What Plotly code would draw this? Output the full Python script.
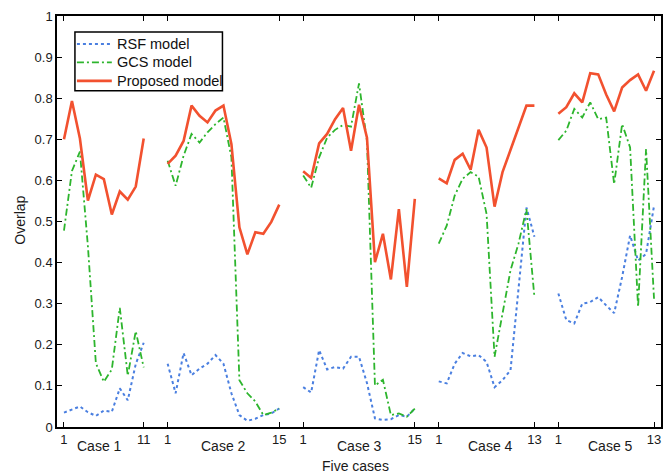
import plotly.graph_objects as go

# ---- data ----
case_names = ["Case 1", "Case 2", "Case 3", "Case 4", "Case 5"]
case_lengths = [11, 15, 15, 13, 13]
series_names = ["RSF model", "GCS model", "Proposed model"]

rsf = [
    [0.035, 0.043, 0.050, 0.036, 0.027, 0.040, 0.037, 0.094, 0.065, 0.153, 0.205],
    [0.154, 0.082, 0.180, 0.126, 0.142, 0.154, 0.175, 0.154, 0.082, 0.029, 0.015, 0.020, 0.029, 0.033, 0.045],
    [0.097, 0.084, 0.187, 0.140, 0.146, 0.142, 0.171, 0.171, 0.107, 0.021, 0.017, 0.019, 0.029, 0.025, 0.045],
    [0.111, 0.106, 0.154, 0.180, 0.172, 0.175, 0.158, 0.097, 0.114, 0.138, 0.335, 0.534, 0.463],
    [0.325, 0.260, 0.252, 0.300, 0.304, 0.316, 0.296, 0.277, 0.365, 0.466, 0.405, 0.421, 0.538],
]
gcs = [
    [0.478, 0.623, 0.670, 0.440, 0.155, 0.110, 0.140, 0.290, 0.125, 0.233, 0.145],
    [0.648, 0.587, 0.660, 0.713, 0.692, 0.717, 0.737, 0.753, 0.656, 0.114, 0.082, 0.062, 0.029, 0.035, 0.045],
    [0.612, 0.582, 0.656, 0.704, 0.723, 0.735, 0.731, 0.836, 0.696, 0.101, 0.115, 0.029, 0.033, 0.025, 0.045],
    [0.446, 0.490, 0.563, 0.604, 0.620, 0.609, 0.518, 0.171, 0.276, 0.381, 0.446, 0.530, 0.316],
    [0.698, 0.721, 0.774, 0.753, 0.790, 0.749, 0.753, 0.591, 0.737, 0.680, 0.292, 0.676, 0.312],
]
proposed = [
    [0.700, 0.793, 0.702, 0.551, 0.614, 0.603, 0.517, 0.573, 0.553, 0.585, 0.702],
    [0.640, 0.660, 0.696, 0.782, 0.757, 0.741, 0.770, 0.782, 0.688, 0.486, 0.420, 0.474, 0.470, 0.499, 0.541],
    [0.622, 0.606, 0.690, 0.713, 0.749, 0.776, 0.672, 0.784, 0.704, 0.401, 0.470, 0.359, 0.530, 0.341, 0.555],
    [0.605, 0.593, 0.650, 0.665, 0.626, 0.723, 0.680, 0.536, 0.620, 0.674, 0.729, 0.782, 0.782],
    [0.762, 0.778, 0.812, 0.790, 0.861, 0.858, 0.809, 0.768, 0.826, 0.844, 0.858, 0.818, 0.867],
]
y_ticks = [round(0.1 * i, 1) for i in range(11)]

# ---- arrange the cases along one axis ----
GAP = 2
starts = []
s = 1
for n in case_lengths:
    starts.append(s)
    s += n + GAP


def build(series):
    xs, ys = [], []
    for st, n, vals in zip(starts, case_lengths, series):
        xs += [st + i for i in range(n)] + [None]
        ys += list(vals) + [None]
    return xs, ys


FONT = "Liberation Sans, Arial, sans-serif"
TXT = "#1a1a1a"
line_styles = [
    dict(color="#4a7fe0", width=2, dash="dot"),
    dict(color="#2db52d", width=1.8, dash="7px,3px,2px,3px"),
    dict(color="#f2512f", width=2.6),
]

fig = go.Figure()
for name, series, line in zip(series_names, [rsf, gcs, proposed], line_styles):
    xs, ys = build(series)
    fig.add_trace(go.Scatter(x=xs, y=ys, mode="lines", name=name, line=line,
                             connectgaps=False, showlegend=False))

tickvals, ticktext = [], []
for st, n in zip(starts, case_lengths):
    tickvals += [st, st + n - 1]
    ticktext += ["1", str(n)]

annotations = []
label_shift = [-0.6, 0, 0, 0.5, 0.5]
for st, n, name, dx in zip(starts, case_lengths, case_names, label_shift):
    annotations.append(dict(x=st + (n - 1) / 2 + dx, y=0, xref="x", yref="paper",
                            yshift=-19, yanchor="middle", showarrow=False, text=name,
                            font=dict(size=14, family=FONT, color=TXT)))
annotations.append(dict(x=0.495, y=0, xref="paper", yref="paper", yshift=-39,
                        yanchor="middle", showarrow=False, text="Five cases",
                        font=dict(size=14, family=FONT, color=TXT)))
annotations.append(dict(x=0, y=0.502, xref="paper", yref="paper", xshift=-37,
                        xanchor="center", yanchor="middle", textangle=-90,
                        showarrow=False, text="Overlap",
                        font=dict(size=14, family=FONT, color=TXT)))

# ---- legend box (MATLAB style), drawn in paper coordinates ----
PW, PH, L, B = 606.0, 412.0, 57.0, 427.0


def px(x):
    return (x - L) / PW


def py(y):
    return (B - y) / PH


shapes = [dict(type="rect", xref="paper", yref="paper", x0=px(75), x1=px(223),
               y0=py(90), y1=py(31), line=dict(color="black", width=1.5),
               fillcolor="white", layer="above")]
item_y = [43, 61.5, 80]
for name, line, yy in zip(series_names, line_styles, item_y):
    shapes.append(dict(type="line", xref="paper", yref="paper", x0=px(77), x1=px(112),
                       y0=py(yy), y1=py(yy), line=line, layer="above"))
    annotations.append(dict(x=px(115), y=py(yy), xref="paper", yref="paper",
                            xanchor="left", yanchor="middle", showarrow=False,
                            text=name, font=dict(size=14.5, family=FONT, color="#111")))

fig.update_layout(
    width=672, height=474,
    margin=dict(l=57, r=9, t=15, b=47),
    paper_bgcolor="white", plot_bgcolor="white",
    font=dict(family=FONT, size=13, color=TXT),
    showlegend=False,
    xaxis=dict(range=[0.125, 75.875], tickvals=tickvals, ticktext=ticktext,
               ticks="inside", ticklen=5, tickwidth=1, tickcolor="black",
               showline=True, linecolor="black", linewidth=1.5, mirror="ticks",
               showgrid=False, zeroline=False,
               tickfont=dict(size=13, family=FONT, color=TXT)),
    yaxis=dict(range=[0, 1], tickvals=y_ticks,
               ticktext=[("%g" % v) for v in y_ticks],
               ticks="inside", ticklen=5, tickwidth=1, tickcolor="black",
               showline=True, linecolor="black", linewidth=1.5, mirror="ticks",
               showgrid=False, zeroline=False,
               tickfont=dict(size=13, family=FONT, color=TXT)),
    shapes=shapes,
    annotations=annotations,
)

fig.write_html("out.html")
